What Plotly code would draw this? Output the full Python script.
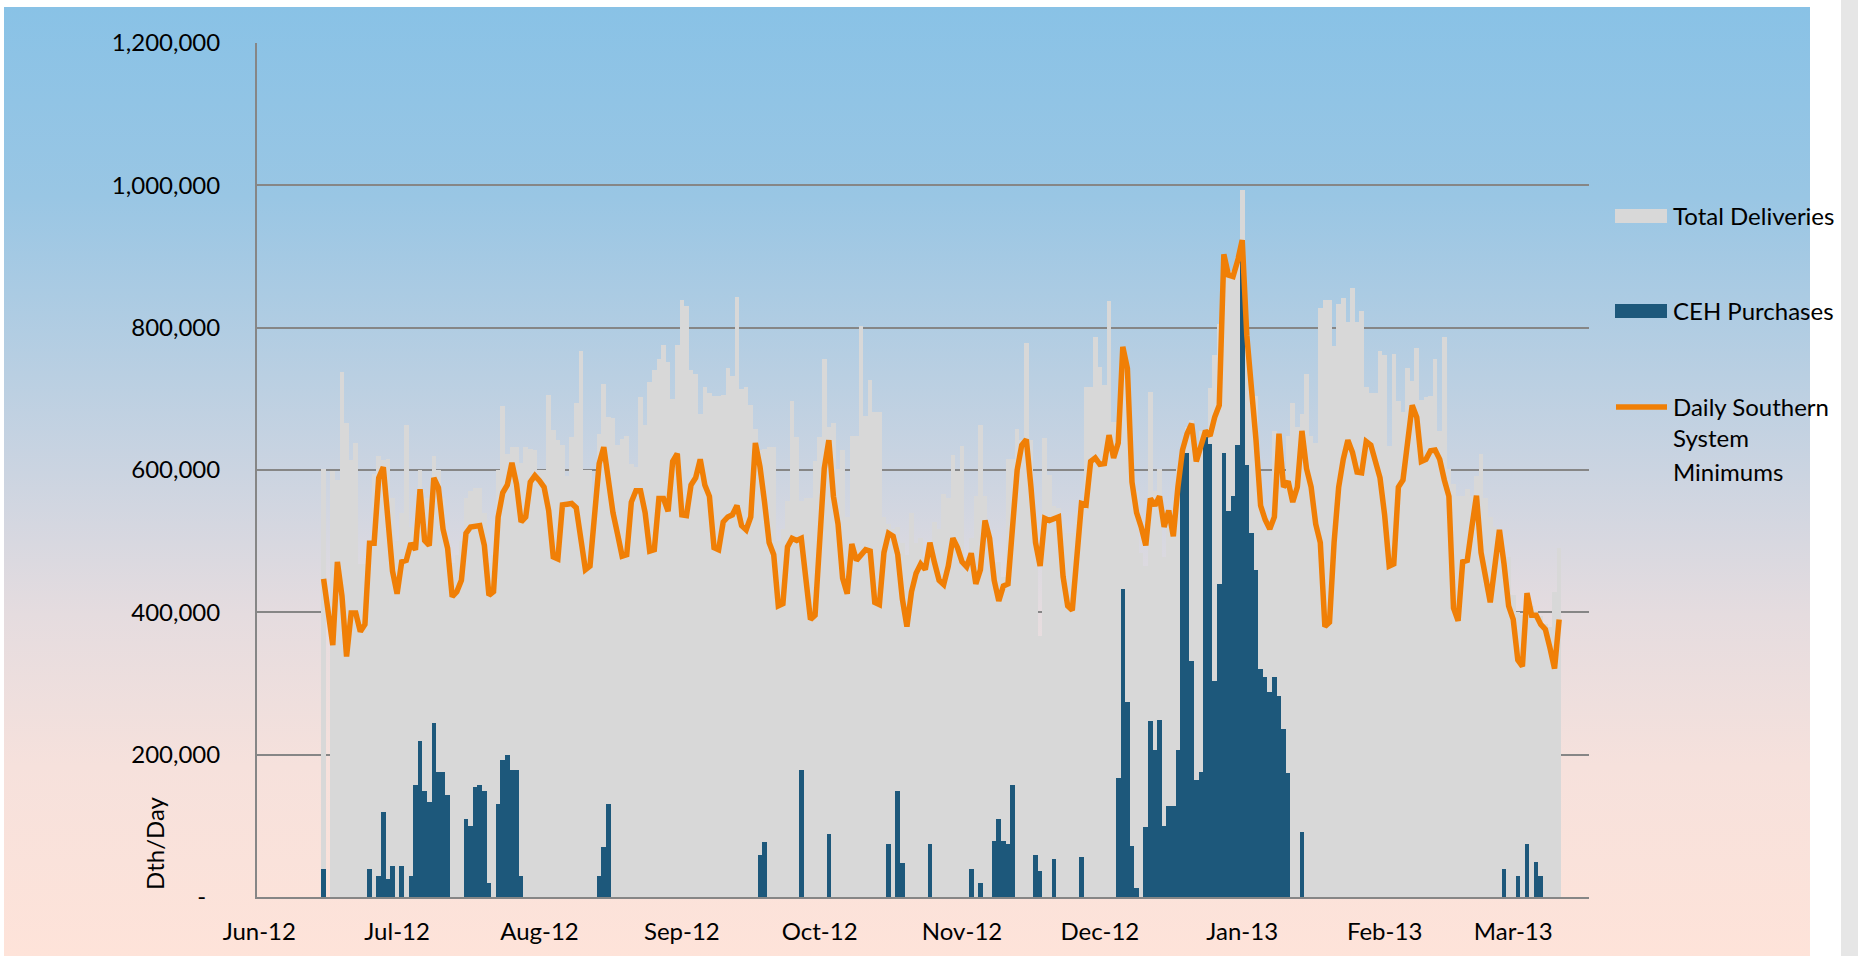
import base64
import pandas as pd
import plotly.graph_objects as go

# ---------------- data (thousand Dth/day, daily from 2012-06-15) ----------------
START_DATE = "2012-06-15"

southern_minimums_k = [
    447, 400, 354, 471, 423, 338, 399, 399, 373, 383,
    497, 497, 589, 604, 520, 458, 426, 471, 473, 497,
    488, 573, 501, 494, 589, 575, 517, 490, 422, 429,
    445, 511, 520, 521, 522, 494, 424, 429, 534, 568,
    579, 610, 580, 527, 534, 583, 592, 585, 576, 543,
    478, 475, 551, 552, 553, 547, 498, 460, 465, 540,
    609, 632, 580, 540, 510, 479, 481, 555, 571, 571,
    540, 486, 488, 560, 560, 542, 612, 623, 537, 536,
    579, 589, 615, 579, 563, 491, 488, 527, 534, 537,
    550, 522, 516, 534, 638, 605, 555, 498, 481, 409,
    412, 492, 504, 501, 504, 445, 390, 396, 498, 602,
    642, 563, 524, 448, 426, 496, 473, 481, 488, 486,
    414, 411, 484, 511, 507, 481, 419, 380, 429, 455,
    468, 460, 498, 470, 445, 439, 465, 504, 491, 471,
    464, 483, 440, 460, 529, 504, 445, 416, 437, 440,
    524, 600, 635, 643, 576, 498, 465, 532, 529, 531,
    534, 450, 409, 403, 478, 553, 551, 612, 617, 608,
    609, 649, 617, 638, 773, 743, 583, 540, 520, 494,
    560, 550, 563, 520, 543, 507, 576, 628, 651, 665,
    612, 635, 655, 648, 674, 691, 903, 874, 872, 894,
    923, 789, 720, 642, 550, 530, 517, 534, 651, 576,
    584, 555, 576, 655, 602, 576, 524, 498, 380, 386,
    498, 576, 615, 642, 625, 597, 596, 640, 635, 609,
    589, 537, 465, 468, 576, 586, 635, 691, 674, 612,
    615, 627, 628, 615, 586, 563, 406, 388, 471, 473,
    520, 564, 484, 450, 414, 465, 516, 468, 409, 390,
    333, 324, 427, 396, 396, 383, 376, 350, 321, 390,
]

total_deliveries_k = [
    602, None, 599, 586, 738, 666, 614, 638, 468, 468,
    500, 595, 620, 614, 615, 560, 500, 540, 663, 520,
    520, 600, 560, 560, 620, 600, 560, 500, 470, 480,
    500, 560, 570, 575, 575, 540, 470, 480, 600, 690,
    622, 632, 632, 610, 632, 630, 628, 600, 600, 706,
    656, 642, 635, 592, 647, 694, 767, 600, 600, 560,
    650, 721, 674, 673, 635, 643, 648, 609, 604, 702,
    663, 723, 740, 756, 776, 752, 700, 776, 839, 831,
    741, 735, 678, 717, 708, 704, 704, 706, 743, 732,
    843, 714, 717, 691, 658, 628, 630, 632, 632, 500,
    517, 556, 697, 647, 556, 560, 560, 612, 647, 756,
    660, 666, 602, 628, 534, 648, 648, 802, 676, 727,
    681, 681, 534, 524, 517, 520, 498, 480, 540, 498,
    504, 478, 498, 527, 517, 566, 560, 621, 599, 634,
    478, 504, 563, 663, 563, 511, 471, 471, 450, 615,
    615, 658, 642, 779, 642, 498, 367, 645, 593, 550,
    547, 524, 511, 511, 540, 550, 717, 717, 787, 745,
    719, 838, 668, 668, 760, 743, 576, 570, 484, 465,
    710, 570, 602, 478, 530, 511, 602, 615, 660, 670,
    625, 655, 648, 715, 761, 805, 900, 880, 880, 900,
    994, 785, 720, 704, 550, 517, 524, 655, 573, 596,
    648, 694, 661, 678, 735, 648, 638, 828, 839, 839,
    774, 833, 841, 808, 856, 808, 824, 717, 708, 708,
    767, 761, 634, 763, 697, 682, 743, 725, 771, 699,
    702, 704, 756, 655, 787, 602, 580, 563, 563, 573,
    563, 592, 622, 560, 534, 520, 511, 481, 478, 424,
    400, 396, 426, 409, 402, 395, 383, 380, 429, 491,
]

ceh_purchases_k = [
    39, 0, 0, 0, 0, 0, 0, 0, 0, 0,
    39, 0, 29, 119, 25, 44, 0, 44, 0, 29,
    158, 219, 149, 134, 244, 175, 175, 144, 0, 0,
    0, 109, 100, 154, 158, 149, 20, 0, 130, 193,
    200, 179, 179, 29, 0, 0, 0, 0, 0, 0,
    0, 0, 0, 0, 0, 0, 0, 0, 0, 0,
    29, 70, 130, 0, 0, 0, 0, 0, 0, 0,
    0, 0, 0, 0, 0, 0, 0, 0, 0, 0,
    0, 0, 0, 0, 0, 0, 0, 0, 0, 0,
    0, 0, 0, 0, 0, 59, 77, 0, 0, 0,
    0, 0, 0, 0, 179, 0, 0, 0, 0, 0,
    88, 0, 0, 0, 0, 0, 0, 0, 0, 0,
    0, 0, 0, 74, 0, 149, 48, 0, 0, 0,
    0, 0, 74, 0, 0, 0, 0, 0, 0, 0,
    0, 39, 0, 20, 0, 0, 79, 109, 79, 74,
    158, 0, 0, 0, 0, 59, 36, 0, 0, 54,
    0, 0, 0, 0, 0, 56, 0, 0, 0, 0,
    0, 0, 0, 167, 433, 274, 71, 13, 0, 98,
    247, 206, 249, 100, 128, 128, 206, 624, 624, 332,
    164, 175, 647, 637, 304, 440, 624, 542, 563, 635,
    900, 607, 512, 460, 320, 309, 288, 309, 282, 236,
    174, 0, 0, 92, 0, 0, 0, 0, 0, 0,
    0, 0, 0, 0, 0, 0, 0, 0, 0, 0,
    0, 0, 0, 0, 0, 0, 0, 0, 0, 0,
    0, 0, 0, 0, 0, 0, 0, 0, 0, 0,
    0, 0, 0, 0, 0, 0, 0, 39, 0, 0,
    29, 0, 74, 0, 49, 29, 0, 0, 0, 0,
]

month_ticks = ["2012-06-01", "2012-07-01", "2012-08-01", "2012-09-01", "2012-10-01",
               "2012-11-01", "2012-12-01", "2013-01-01", "2013-02-01", "2013-03-01"]
y_tickvals = [0, 200000, 400000, 600000, 800000, 1000000, 1200000]
y_ticktext = ["-\u2007", "200,000", "400,000", "600,000", "800,000", "1,000,000", "1,200,000"]
legend_names = ["Total Deliveries", "CEH Purchases", "Daily Southern", "System", "Minimums"]

# ---------------- styling ----------------
FONT = "Lato"
GRAY = "#D8D8D8"
BLUE = "#1D587B"
ORANGE = "#F07F06"
GRID = "#868686"

dates = pd.date_range(START_DATE, periods=len(southern_minimums_k), freq="D")
to_dth = lambda arr: [None if v is None else v * 1000 for v in arr]

fig = go.Figure()
fig.add_trace(go.Bar(x=dates, y=to_dth(total_deliveries_k), name="Total Deliveries",
                     marker=dict(color=GRAY, line=dict(width=0))))
fig.add_trace(go.Bar(x=dates, y=to_dth(ceh_purchases_k), name="CEH Purchases",
                     marker=dict(color=BLUE, line=dict(width=0))))
fig.add_trace(go.Scatter(x=dates, y=to_dth(southern_minimums_k), mode="lines",
                         name="Daily Southern System Minimums",
                         line=dict(color=ORANGE, width=5.5)))

W, H = 1858, 956
L, R, T, B = 257, 1589, 43, 897          # plot area in pixels
pw, ph = R - L, B - T
px = lambda X: (X - L) / pw
py = lambda Y: (B - Y) / ph

# gradient background as an SVG image
svg = ('<svg xmlns="http://www.w3.org/2000/svg" width="100" height="100" preserveAspectRatio="none">'
       '<defs><linearGradient id="g" x1="0" y1="0" x2="0" y2="1">'
       '<stop offset="0" stop-color="#89C2E6"/>'
       '<stop offset="0.2" stop-color="#99C6E4"/>'
       '<stop offset="0.49" stop-color="#CBD4E1"/>'
       '<stop offset="0.64" stop-color="#E5DCDF"/>'
       '<stop offset="0.8" stop-color="#F6E1DC"/>'
       '<stop offset="1" stop-color="#FEE3D9"/>'
       '</linearGradient></defs><rect width="100" height="100" fill="url(#g)"/></svg>')
src = "data:image/svg+xml;base64," + base64.b64encode(svg.encode()).decode()

bg_x0, bg_x1, bg_y0, bg_y1 = 4, 1810, 7, 956
images = [dict(source=src, xref="paper", yref="paper", x=px(bg_x0), y=py(bg_y0),
               sizex=(bg_x1 - bg_x0) / pw, sizey=(bg_y1 - bg_y0) / ph,
               xanchor="left", yanchor="top", sizing="stretch", layer="below")]

shapes = [
    # legend swatches
    dict(type="rect", xref="paper", yref="paper", x0=px(1615), x1=px(1667), y0=py(223), y1=py(209),
         fillcolor=GRAY, line=dict(width=0)),
    dict(type="rect", xref="paper", yref="paper", x0=px(1615), x1=px(1667), y0=py(318), y1=py(304),
         fillcolor=BLUE, line=dict(width=0)),
    dict(type="line", xref="paper", yref="paper", x0=px(1616), x1=px(1667), y0=py(407), y1=py(407),
         line=dict(color=ORANGE, width=5.5)),
    # right-hand page strip
    dict(type="rect", xref="paper", yref="paper", x0=px(1841), x1=px(1858), y0=py(956), y1=py(0),
         fillcolor="#E6E6E6", line=dict(width=0)),
]

txt = dict(family=FONT, size=24, color="#000000")
annotations = [
    dict(text="Dth/Day", xref="paper", yref="paper", x=px(154), y=py(843), textangle=-90,
         showarrow=False, font=txt, xanchor="center", yanchor="middle"),
]
for label, yc in zip(legend_names, [215, 310, 406, 438, 471]):
    annotations.append(dict(text=label, xref="paper", yref="paper", x=px(1671), y=py(yc),
                            showarrow=False, font=txt, xanchor="left", yanchor="middle"))

fig.update_layout(
    width=W, height=H,
    margin=dict(l=L, r=W - R, t=T, b=H - B, pad=0, autoexpand=False),
    paper_bgcolor="white", plot_bgcolor="rgba(0,0,0,0)",
    barmode="overlay", bargap=0, showlegend=False,
    font=txt, images=images, shapes=shapes, annotations=annotations,
    xaxis=dict(type="date", range=["2012-05-31 12:00", "2013-03-17 12:00"],
               tickvals=month_ticks, tickformat="%b-%y", showgrid=False,
               showline=True, linecolor=GRID, linewidth=2, ticks="",
               ticklabelstandoff=12, tickfont=txt, zeroline=False, automargin=False),
    yaxis=dict(range=[0, 1200000], tickvals=y_tickvals, ticktext=y_ticktext,
               showgrid=True, gridcolor=GRID, gridwidth=1.5,
               showline=True, linecolor=GRID, linewidth=2, ticks="",
               ticklabelstandoff=30, tickfont=txt, zeroline=False, automargin=False),
)

fig.write_html("out.html", config={"displayModeBar": False},
               post_script="document.body.style.margin='0';document.body.style.overflow='hidden';")
